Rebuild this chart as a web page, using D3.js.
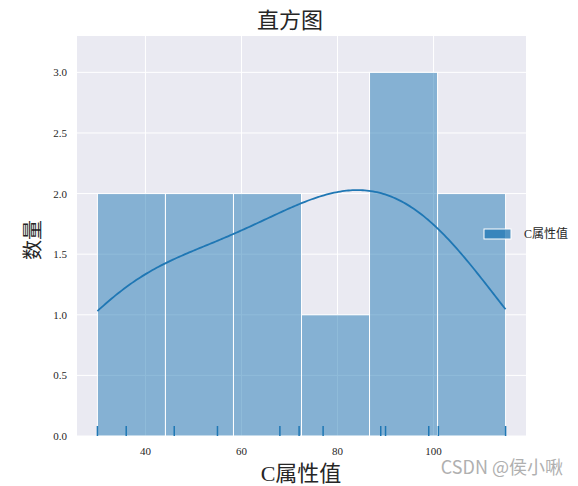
<!DOCTYPE html>
<html>
<head>
<meta charset="utf-8">
<script src="https://cdn.jsdelivr.net/npm/d3@7"></script>
<style>
  body { margin: 0; background: #fff; }
  text { font-family: "Liberation Serif", "Noto Sans CJK SC", serif; fill: #262626; }
</style>
</head>
<body>
<div id="chart"></div>
<script>
var cValues = [30, 36, 46, 55, 68, 72, 77, 89, 90, 99, 101, 115];
var binCount = 6;
var xTicks = [40, 60, 80, 100];
var yTicks = [0, 0.5, 1.0, 1.5, 2.0, 2.5, 3.0];
var seriesName = 'C属性值';

var width = 578, height = 486;
var margin = { left: 77, right: 52, top: 36, bottom: 50 };
var color = '#1f77b4';

var svg = d3.select('#chart').append('svg')
  .attr('width', width).attr('height', height);

var lo = d3.min(cValues), hi = d3.max(cValues);
var pad = (hi - lo) * 0.05;
var x = d3.scaleLinear().domain([lo - pad, hi + pad]).range([margin.left, width - margin.right]);
var y = d3.scaleLinear().domain([0, 3.3]).range([height - margin.bottom, margin.top]);

// background + grid
svg.append('rect')
  .attr('x', margin.left).attr('y', margin.top)
  .attr('width', width - margin.left - margin.right)
  .attr('height', height - margin.top - margin.bottom)
  .attr('fill', '#eaeaf2');

svg.selectAll('.gx').data(xTicks).enter().append('line')
  .attr('x1', d => x(d)).attr('x2', d => x(d))
  .attr('y1', margin.top).attr('y2', height - margin.bottom)
  .attr('stroke', '#fff').attr('stroke-width', 1);
svg.selectAll('.gy').data(yTicks).enter().append('line')
  .attr('y1', d => y(d)).attr('y2', d => y(d))
  .attr('x1', margin.left).attr('x2', width - margin.right)
  .attr('stroke', '#fff').attr('stroke-width', 1);

// histogram
var step = (hi - lo) / binCount;
var thresholds = d3.range(1, binCount).map(i => lo + i * step);
var bins = d3.bin().domain([lo, hi]).thresholds(thresholds)(cValues);

svg.selectAll('.bar').data(bins).enter().append('rect')
  .attr('x', d => x(d.x0))
  .attr('width', d => x(d.x1) - x(d.x0))
  .attr('y', d => y(d.length))
  .attr('height', d => y(0) - y(d.length))
  .attr('fill', color).attr('fill-opacity', 0.5)
  .attr('stroke', '#fff').attr('stroke-width', 1);

// kde (scott bandwidth, clipped to data range, scaled to counts)
var n = cValues.length;
var sd = d3.deviation(cValues);
var bw = sd * Math.pow(n, -0.2);
function kde(v) {
  var s = 0;
  cValues.forEach(function(c) {
    var z = (v - c) / bw;
    s += Math.exp(-0.5 * z * z);
  });
  return s / (n * bw * Math.sqrt(2 * Math.PI));
}
var grid = d3.range(0, 201).map(i => lo + (hi - lo) * i / 200);
var curve = grid.map(v => [v, kde(v) * n * step]);
svg.append('path')
  .datum(curve)
  .attr('d', d3.line().x(d => x(d[0])).y(d => y(d[1])))
  .attr('fill', 'none').attr('stroke', color).attr('stroke-width', 1.8);

// rug
svg.selectAll('.rug').data(cValues).enter().append('line')
  .attr('x1', d => x(d)).attr('x2', d => x(d))
  .attr('y1', y(0)).attr('y2', y(0) - 10)
  .attr('stroke', color).attr('stroke-width', 1.5);

// ticks
svg.selectAll('.tx').data(xTicks).enter().append('text')
  .attr('x', d => x(d)).attr('y', height - margin.bottom + 19)
  .attr('text-anchor', 'middle').style('font-size', '11px')
  .text(d => d);
svg.selectAll('.ty').data(yTicks).enter().append('text')
  .attr('x', margin.left - 10).attr('y', d => y(d) + 4)
  .attr('text-anchor', 'end').style('font-size', '11px')
  .text(d => d.toFixed(1));

// titles
svg.append('text').attr('x', 290).attr('y', 28)
  .attr('text-anchor', 'middle').style('font-size', '22px').text('直方图');
svg.append('text').attr('x', 301).attr('y', 481)
  .attr('text-anchor', 'middle').style('font-size', '22px').text(seriesName);
svg.append('text').attr('transform', 'translate(40,240) rotate(-90)')
  .attr('text-anchor', 'middle').style('font-size', '20px').text('数量');

// legend
svg.append('rect').attr('x', 484).attr('y', 229).attr('width', 27).attr('height', 10)
  .attr('fill', color).attr('fill-opacity', 0.75)
  .attr('stroke', '#fff').attr('stroke-width', 1);
svg.append('text').attr('x', 524).attr('y', 238)
  .style('font-size', '12px').text(seriesName);

// watermark
svg.append('text').attr('x', 563).attr('y', 474)
  .attr('text-anchor', 'end')
  .style('font-family', '"Noto Sans CJK SC", sans-serif')
  .style('font-size', '18px').style('fill', '#b0b0b0')
  .text('CSDN @侯小啾');
</script>
</body>
</html>
